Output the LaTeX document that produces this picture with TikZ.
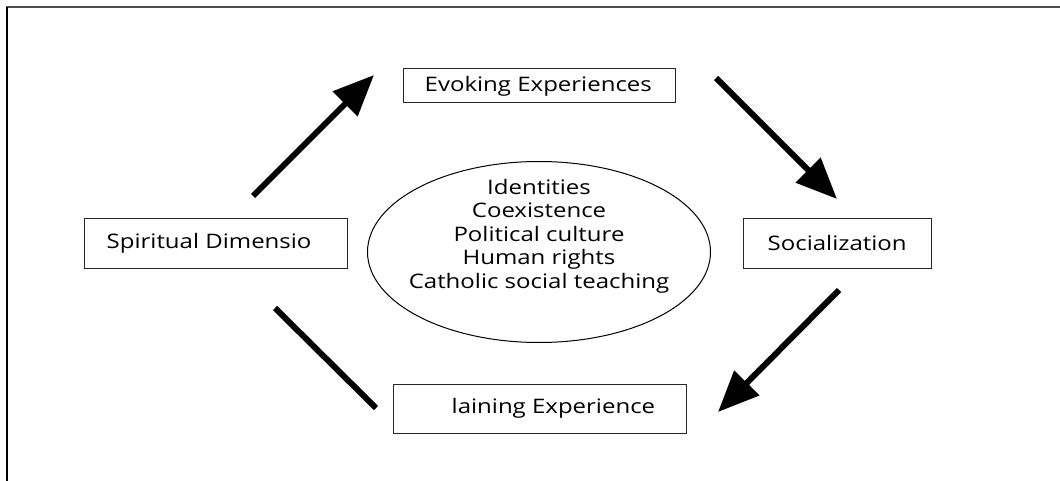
\documentclass[tikz,border=0pt]{standalone}
\usepackage{fontspec}
\setmainfont[FakeStretch=1.2]{Open Sans}
\usetikzlibrary{arrows.meta,shapes.geometric}
\tikzset{
  stage/.style={draw=black!85,line width=1pt,rectangle,minimum height=49pt},
  bigarrow/.style={line width=6pt,-{Triangle[length=41pt,width=34pt]}},
}
\begin{document}
\begin{tikzpicture}[x=1pt,y=-1pt,font=\fontsize{20}{23.5}\selectfont]
\useasboundingbox (0,0) rectangle (1060,481);
\draw[line width=2pt,black!70] (6,7.5) -- (1060,7.5); % frame top
\draw[line width=2pt] (6.5,7) -- (6.5,481); % frame left
% the four stages, text set from the left edge
\node[stage,minimum width=272pt,minimum height=34pt,
  label={[name=evoketxt,anchor=west,inner sep=0pt,xshift=22pt]west:Evoking Experiences}] (evoke) at (539,86) {};
\node[stage,minimum width=263pt,
  label={[name=spirittxt,anchor=west,inner sep=0pt,xshift=23pt]west:Spiritual Dimensio}] (spirit) at (215.5,243.5) {};
\node[stage,minimum width=188pt,
  label={[name=socialtxt,anchor=west,inner sep=0pt,xshift=25pt]west:Socialization}] (social) at (837,243.5) {};
\node[stage,minimum width=293pt,
  label={[name=explaintxt,anchor=west,inner sep=0pt,xshift=59pt]west:laining Experience}] (explain) at (539.5,408.5) {};
% middle
\node[draw,ellipse,line width=1pt,minimum width=343pt,minimum height=181pt] (core) at (539,252) {};
\node[align=center] (themes) at (539,236) {Identities\\Coexistence\\Political culture\\Human rights\\Catholic social teaching};
% arrow ends
\coordinate (a1) at (253,196); \coordinate (b1) at (374,75);
\coordinate (a2) at (716,78);  \coordinate (b2) at (837,199);
\coordinate (a3) at (839,290); \coordinate (b3) at (718,412);
\coordinate (a4) at (376,408); \coordinate (b4) at (275,308);
\foreach \n in {1,2,3} % edit here for the arrows
\draw[bigarrow] (a\n) -- (b\n);
\draw[line width=6pt] (a4) -- (b4);
\end{tikzpicture}
\end{document}
